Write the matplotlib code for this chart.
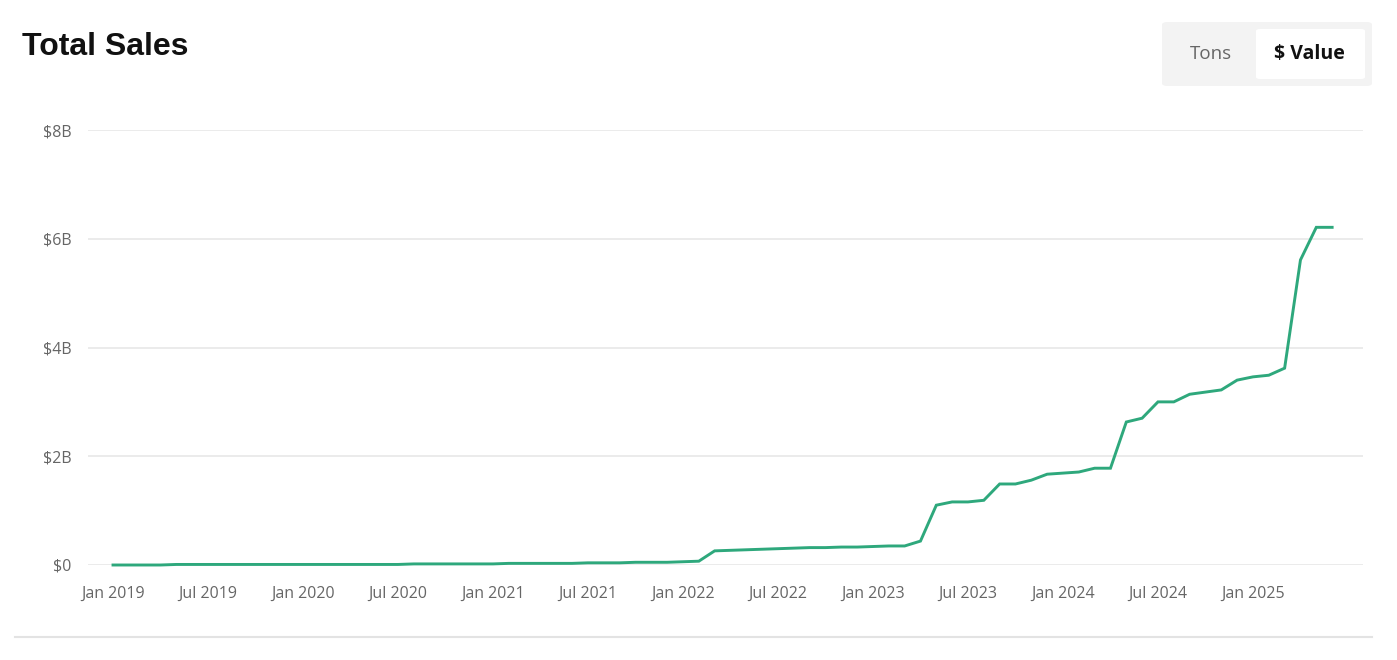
import numpy as np
import pandas as pd
import matplotlib
matplotlib.use("Agg")
import matplotlib.pyplot as plt
from matplotlib.patches import FancyBboxPatch
from matplotlib.lines import Line2D

# Monthly cumulative sales, $ billions, Jan 2019 .. Jun 2025
sales_2019 = [0.00, 0.00, 0.00, 0.00, 0.01, 0.01, 0.01, 0.01, 0.01, 0.01, 0.01, 0.01]
sales_2020 = [0.01, 0.01, 0.01, 0.01, 0.01, 0.01, 0.01, 0.02, 0.02, 0.02, 0.02, 0.02]
sales_2021 = [0.02, 0.03, 0.03, 0.03, 0.03, 0.03, 0.04, 0.04, 0.04, 0.05, 0.05, 0.05]
sales_2022 = [0.06, 0.07, 0.26, 0.27, 0.28, 0.29, 0.30, 0.31, 0.32, 0.32, 0.33, 0.33]
sales_2023 = [0.34, 0.35, 0.35, 0.44, 1.10, 1.16, 1.16, 1.19, 1.49, 1.49, 1.56, 1.67]
sales_2024 = [1.69, 1.71, 1.78, 1.78, 2.63, 2.70, 3.00, 3.00, 3.14, 3.18, 3.22, 3.40]
sales_2025 = [3.46, 3.49, 3.62, 5.61, 6.21, 6.21]

sales = sales_2019 + sales_2020 + sales_2021 + sales_2022 + sales_2023 + sales_2024 + sales_2025
months = pd.date_range("2019-01-01", periods=len(sales), freq="MS")
x = np.arange(len(months))

y_ticks = [0, 2, 4, 6, 8]
y_labels = ["$0", "$2B", "$4B", "$6B", "$8B"]

W, H = 1397, 660
fig = plt.figure(figsize=(W / 100, H / 100), dpi=100)
fig.patch.set_facecolor("white")

def px(x0, y0):
    # pixel (from top-left) -> figure fraction
    return x0 / W, 1 - y0 / H

left, top = px(88, 130)
right, bottom = px(1363, 565)
ax = fig.add_axes([left, bottom, right - left, top - bottom])

ax.plot(x, sales, color="#2ea87c", linewidth=2.1, solid_joinstyle="miter", clip_on=False, zorder=3)

ax.set_ylim(0, 8)
ax.set_xlim(-1.58, 78.95)
ax.set_yticks(y_ticks)
ax.set_yticklabels(y_labels)
tick_pos = x[::6][:13]
ax.set_xticks(tick_pos)
ax.set_xticklabels([m.strftime("%b %Y") for m in months[tick_pos]])

ax.grid(axis="y", color="#ebebeb", linewidth=1.4)
ax.set_axisbelow(True)
for s in ax.spines.values():
    s.set_visible(False)
ax.tick_params(axis="both", length=0, labelsize=11.5, labelcolor="#666666")
ax.tick_params(axis="y", pad=12)
ax.tick_params(axis="x", pad=15)
for lbl in ax.get_xticklabels() + ax.get_yticklabels():
    lbl.set_family("Open Sans")

# title
tx, ty = px(22, 47)
fig.text(tx, ty, "Total Sales", fontsize=23, fontweight="bold", color="#111111",
         family="Liberation Sans", va="center", ha="left")

# toggle control
bx, by = px(1162, 86)
fig.add_artist(FancyBboxPatch((bx, by), 210 / W, 64 / H, boxstyle="round,pad=0,rounding_size=0.004",
                              transform=fig.transFigure, facecolor="#f3f3f3", edgecolor="none"))
wx, wy = px(1256, 79)
fig.add_artist(FancyBboxPatch((wx, wy), 109 / W, 50 / H, boxstyle="round,pad=0,rounding_size=0.003",
                              transform=fig.transFigure, facecolor="white", edgecolor="none"))
t1x, t1y = px(1211, 54)
fig.text(t1x, t1y, "Tons", fontsize=13.5, color="#666666", family="Open Sans", ha="center", va="center")
t2x, t2y = px(1309, 54)
fig.text(t2x, t2y, "$ Value", fontsize=14, color="#111111", fontweight="bold", family="Open Sans",
         ha="center", va="center")

# bottom separator
l1x, l1y = px(15, 637)
l2x, _ = px(1372, 637)
fig.add_artist(Line2D([l1x, l2x], [l1y, l1y], transform=fig.transFigure, color="#e3e3e3", linewidth=1.5))

fig.savefig("out.png", dpi=100)
